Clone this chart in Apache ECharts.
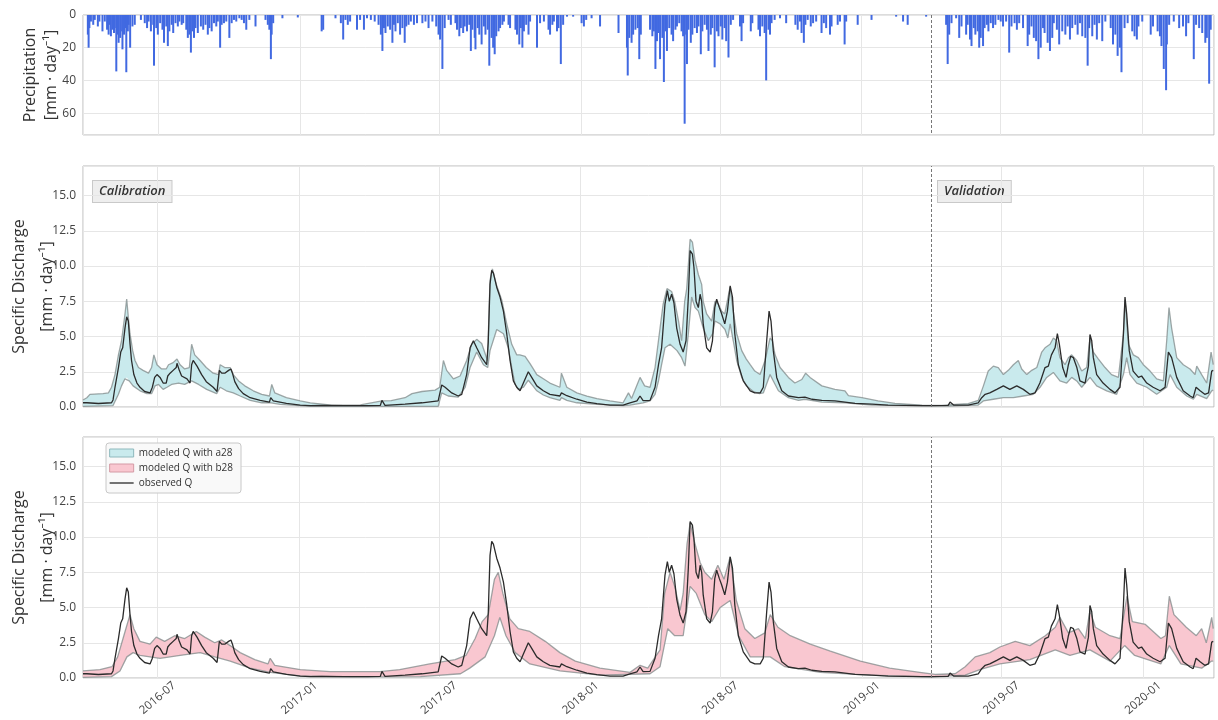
<!DOCTYPE html>
<html>
<head>
<meta charset="utf-8">
<script src="https://cdn.jsdelivr.net/npm/echarts@6/dist/echarts.min.js"></script>
<style>
  html, body { margin: 0; padding: 0; background: #fff; }
  #chart { width: 1218px; height: 720px; }
</style>
</head>
<body>
<div id="chart"></div>
<script>
// Every series is stored as [day, value], day 0 = 2016-03-26.
const DAY = 86400000;
const START = Date.UTC(2016, 2, 26);
const END = Date.UTC(2020, 3, 2);
const SPLIT_DATE = '2019-04-01';            // calibration | validation

// Daily precipitation [mm/day]
const precipitation = [
  [5,12],[6,20],[7,8],[9,4],[12,6],[14,3],[18,7],[20,4],[24,10],[27,4],[30,9],[32,12],[33,6],[35,13],[37,9],[39,11],
  [40,8],[42,34.5],[43,12],[45,17],[47,14],[48,10],[50,21],[52,12],[54,8],[55,35],[57,10],[58,6],[60,20],[63,7],[66,6],
  [74,3],[79,5],[82,8],[84,4],[87,10],[90,6],[91,31],[94,8],[96,12],[99,5],[102,9],[104,17],[107,7],[109,19],[111,10],
  [114,6],[116,11],[119,5],[122,7],[124,4],[127,6],[129,5],[133,9],[135,14],[137,12],[139,23],[141,10],[143,14],[145,8],
  [148,11],[152,7],[155,9],[158,6],[161,12],[163,8],[166,10],[169,5],[172,7],[174,4],[177,20],[179,6],[182,5],[185,4],
  [189,14],[192,5],[195,3],[198,4],[202,2],[205,3],[208,5],[211,9],[215,3],[223,7],[236,3],[239,6],[241,9],[243,27],
  [244,12],[246,5],[258,2],[278,1.5],[309,10],[311,9],[327,2],[334,5],[337,15],[340,3],[343,6],[346,4],[355,9],[359,3],
  [364,9],[368,2],[373,3],[378,4],[383,6],[386,12],[388,22],[390,8],[392,11],[395,7],[398,9],[401,17],[403,6],[405,10],
  [408,5],[411,12],[414,8],[417,17],[419,7],[422,6],[425,4],[429,6],[433,5],[440,5],[444,4],[448,8],[453,4],[458,7],
  [461,12],[463,15],[466,33],[469,8],[474,3],[477,6],[483,5],[485,9],[488,13],[490,8],[493,11],[495,7],[498,10],[501,6],
  [503,22],[505,9],[508,14],[509,21],[512,8],[514,12],[517,18],[520,7],[522,12],[525,9],[527,31],[530,14],[532,20],
  [534,24],[536,13],[539,10],[541,8],[544,6],[546,4],[552,6],[554,8],[561,9],[563,12],[566,18],[568,8],[570,20],[572,10],
  [575,6],[578,12],[580,4],[589,20],[593,5],[598,4],[604,9],[606,12],[609,6],[611,4],[615,10],[617,8],[620,30],[623,6],
  [628,1],[636,1],[647,5],[650,7],[653,3],[660,2],[671,7],[695,11],[706,20],[707,37],[709,14],[712,17],[714,12],[717,9],
  [720,8],[722,27],[724,12],[736,9],[739,13],[741,10],[743,33],[745,16],[747,11],[749,27],[752,14],[754,41],[756,10],
  [758,22],[761,8],[764,12],[766,16],[769,9],[771,7],[774,5],[777,10],[779,13],[781,66.5],[783,12],[784,30],[786,9],
  [789,17],[791,12],[794,8],[797,11],[799,7],[802,24],[804,10],[807,6],[810,9],[812,22],[815,12],[817,8],[820,32],
  [823,10],[825,13],[828,7],[830,15],[833,8],[835,16],[838,26],[841,6],[844,3],[853,7],[855,16],[857,5],[867,10],[869,5],
  [877,9],[879,13],[882,7],[885,11],[887,40],[890,9],[892,12],[894,5],[898,3],[905,2],[913,5],[925,6],[928,9],[931,4],
  [933,11],[936,17],[938,6],[941,3],[945,7],[948,5],[952,4],[959,11],[962,5],[965,8],[970,12],[972,7],[980,6],[983,4],
  [989,18],[991,4],[1006,6],[1024,3],[1056,1],[1065,4],[1071,6],[1095,1],[1121,6],[1123,30],[1125,12],[1128,5],[1134,2],
  [1138,14],[1141,7],[1147,12],[1149,6],[1152,15],[1154,19],[1157,8],[1159,12],[1162,10],[1164,20],[1166,14],[1169,19],
  [1171,8],[1174,6],[1176,10],[1179,5],[1182,8],[1185,6],[1189,3],[1192,4],[1195,7],[1199,4],[1203,23],[1206,7],
  [1210,5],[1213,9],[1216,5],[1221,8],[1227,19],[1229,12],[1232,7],[1235,14],[1238,16],[1241,27],[1244,20],[1247,8],
  [1249,11],[1253,17],[1256,22],[1259,14],[1261,5],[1265,9],[1268,18],[1272,10],[1276,12],[1279,7],[1282,15],[1285,8],
  [1289,6],[1292,12],[1295,5],[1298,13],[1302,14],[1305,31],[1307,8],[1311,13],[1314,6],[1317,15],[1320,5],[1324,16],
  [1328,4],[1335,8],[1338,18],[1341,12],[1344,25],[1347,20],[1349,35],[1353,8],[1357,5],[1363,10],[1366,13],[1369,15],
  [1371,7],[1376,4],[1387,12],[1390,7],[1396,10],[1399,13],[1401,19],[1404,33],[1407,46],[1408,18],[1411,6],[1417,4],
  [1424,8],[1429,7],[1433,13],[1436,5],[1443,27],[1446,6],[1450,8],[1454,11],[1458,17],[1460,14],[1463,42],[1465,9]
];

// Observed specific discharge [mm/day]
const observedQ = [
  [0,0.3],[5,0.3],[20,0.25],[37,0.3],[39,0.5],[41.5,1.4],[46,2.8],[49,3.9],[51.5,4.2],[54.5,5.6],[56.7,6.4],[58.8,6.1],
  [61,4.5],[63,3.3],[66,2.3],[70,1.7],[74,1.4],[80,1.1],[87,1.0],[90,1.4],[93,2.1],[96,2.3],[100,2.1],[104,1.7],[108,1.7],
  [110,2.2],[113,2.4],[117,2.6],[121,2.8],[122,3.1],[125,2.6],[128,2.2],[135,2.0],[139,1.7],[141,3.0],[143,3.3],[148,2.9],
  [154,2.3],[160,1.8],[169,1.4],[174,1.1],[177,2.6],[180,2.4],[184,2.4],[189,2.6],[192,2.7],[194,2.4],[197,1.8],[202,1.3],
  [208,0.95],[217,0.66],[230,0.47],[242,0.35],[243.6,0.66],[247,0.43],[264,0.26],[282,0.14],[295,0.1],[310,0.12],
  [340,0.1],[370,0.1],[386,0.12],[388,0.47],[392,0.12],[418,0.2],[440,0.3],[461,0.43],[465.6,1.56],[470,1.4],[478.6,1.0],
  [487,0.78],[491.6,0.9],[498,2.3],[502.4,4.2],[506.7,4.7],[511,4.2],[517.5,3.5],[524,3.0],[526,4.6],[528.3,8.7],
  [530.5,9.7],[532.7,9.5],[534.8,9.6],[537,8.5],[541.3,7.8],[545.7,6.8],[550,5.2],[554.3,3.3],[558.6,1.85],[563,1.4],
  [567.3,1.15],[571.6,1.7],[578,2.5],[582.4,2.1],[584.5,2.0],[589,1.5],[597.5,1.15],[606,0.9],[619,0.78],[621,1.0],
  [628,0.8],[641,0.55],[654,0.35],[667,0.24],[684,0.14],[701,0.14],[710,0.3],[719,0.43],[723,0.78],[727,0.45],[736,0.47],
  [742.5,1.4],[747,3.0],[751,4.2],[755.4,7.3],[758.5,8.25],[761,7.5],[764,8.0],[767,7.4],[770.6,5.6],[775,4.45],[779,3.9],
  [782.7,4.7],[785.7,7.8],[788,11.1],[791,10.85],[793,9.9],[795.7,7.5],[798.7,7.05],[801,8.0],[803,7.5],[805,5.9],
  [809.5,4.2],[814,3.9],[817,4.7],[820,7.05],[822.5,7.65],[826,7.05],[829,6.6],[833,5.9],[836.4,6.8],[840,8.6],[843,7.8],
  [846,5.2],[850.6,3.0],[857,1.85],[866,1.15],[872,1.0],[879,1.0],[883,1.4],[887.4,4.7],[890.5,6.8],[893,6.1],[896,4.0],
  [900.4,2.1],[907,1.15],[915.6,0.78],[928.6,0.66],[937,0.7],[946,0.55],[959,0.47],[976,0.43],[989,0.35],[1002,0.26],
  [1024,0.2],[1045,0.14],[1067,0.12],[1089,0.1],[1102,0.1],[1123,0.12],[1125.4,0.35],[1130,0.14],[1149,0.14],[1162,0.3],
  [1166.5,0.66],[1171,0.9],[1177,1.0],[1186,1.25],[1194.6,1.5],[1203,1.25],[1212,1.5],[1220.5,1.25],[1229,0.9],
  [1235.7,1.0],[1242,1.7],[1248.7,2.8],[1253,2.9],[1257,3.7],[1261.7,4.2],[1264.7,5.2],[1267.3,4.45],[1271.6,2.8],
  [1276,2.1],[1279,3.0],[1282,3.6],[1285.5,3.5],[1290,2.8],[1294,1.85],[1300.6,1.7],[1305,2.9],[1307,5.15],[1309.3,4.7],
  [1311.4,3.5],[1315.7,2.3],[1324,1.7],[1333,1.25],[1339.5,1.0],[1346,1.4],[1350.4,5.15],[1352.5,7.8],[1354.7,6.6],
  [1358,4.0],[1363,2.55],[1370,2.1],[1374,2.2],[1380.7,1.7],[1389,1.4],[1398,1.15],[1404.5,1.4],[1408.8,3.9],[1413,3.5],
  [1419.6,2.1],[1428,1.15],[1437,0.78],[1441,0.66],[1444.7,1.4],[1450,1.15],[1456,0.9],[1461,1.0],[1465,2.55],[1467,2.6]
];

// Modeled discharge band with parameter set a28 (upper / lower bound)
const a28Upper = [
  [0,0.5],[5,0.66],[9,0.9],[26,0.95],[33,1.0],[37,1.4],[41.5,2.3],[46,3.7],[50,4.7],[54.5,6.6],[56.7,7.65],[58.8,6.4],
  [61,5.2],[64.5,4.0],[67.5,3.3],[72,2.8],[78,2.6],[85,2.4],[89,2.8],[92,3.7],[96,3.0],[102,2.7],[108,2.7],[111,3.0],
  [117,3.15],[122,3.4],[126,3.0],[132,2.7],[138,2.8],[141,4.45],[145,3.7],[152,3.3],[160,2.8],[169,2.4],[176,2.3],
  [178,3.0],[184,2.8],[191,2.8],[195,2.3],[202,1.85],[210,1.5],[221,1.15],[232,0.9],[242,0.78],[245,1.6],[249,1.0],
  [264,0.66],[282,0.43],[295,0.3],[323,0.14],[360,0.15],[388,0.43],[400,0.45],[418,0.66],[427,0.95],[440,1.1],[457,1.2],
  [463,1.4],[467.8,3.3],[472,2.6],[480.8,2.0],[489.4,2.2],[498,3.3],[504.5,4.45],[511,4.8],[517.5,4.5],[525,3.3],
  [528.3,9.0],[531.4,9.8],[537,8.6],[543.5,7.6],[550,5.9],[556.5,4.45],[563,3.7],[567,3.7],[573.8,3.6],[580,3.1],
  [584.5,2.7],[589,2.3],[597.5,2.0],[606,1.7],[619,1.4],[621,2.4],[628,1.4],[641,1.0],[654,0.78],[667,0.6],[684,0.43],
  [701,0.3],[708,1.0],[712,0.6],[723,2.1],[729,1.5],[736,1.4],[742.5,2.8],[749,5.6],[753,7.3],[758,8.4],[764,8.2],
  [768,7.5],[773,6.1],[777,4.7],[781,7.5],[783.6,8.4],[788,11.9],[791,11.7],[794.4,10.4],[798.7,9.4],[803,8.7],[805,7.5],
  [809.5,6.6],[816,6.1],[820.3,7.5],[824.6,7.3],[829,6.8],[833,6.6],[839.8,8.5],[844,6.8],[848.5,5.2],[855,4.0],[861,3.4],
  [866,3.0],[872,2.55],[878.8,2.3],[885.3,3.3],[891.8,4.9],[894.8,4.7],[898.3,3.7],[904.8,2.8],[915.6,2.1],[924,1.7],
  [933,1.95],[938,2.4],[943.7,2.1],[959,1.5],[976,1.25],[989,1.15],[993.5,0.8],[1011,0.66],[1032,0.43],[1054,0.26],
  [1089,0.14],[1115,0.12],[1132,0.19],[1149,0.24],[1162,0.47],[1168.7,1.5],[1175,2.55],[1181.6,2.9],[1188,2.8],
  [1194.6,2.3],[1201,2.6],[1207.6,3.0],[1214,3.3],[1218.4,2.7],[1225,2.3],[1231.4,2.6],[1238,2.8],[1244.4,3.9],
  [1248.7,4.2],[1255.2,4.45],[1259.5,4.9],[1263.8,4.7],[1268,3.5],[1274.6,3.0],[1279,3.5],[1283.3,3.7],[1289.8,3.3],
  [1296.3,2.55],[1302.8,2.8],[1307,4.9],[1311.4,3.9],[1318,3.4],[1326.6,2.8],[1335,2.3],[1343.9,2.1],[1350.4,5.15],
  [1352.5,7.6],[1356.9,4.45],[1363.3,3.7],[1369.8,3.5],[1376.3,3.0],[1385,2.55],[1393.6,2.0],[1402.3,1.85],[1406.6,4.7],
  [1409.6,7.05],[1413,5.6],[1419.6,3.5],[1428.2,3.0],[1436.9,2.7],[1443.4,2.3],[1445.6,2.9],[1452,2.3],[1458.5,1.7],
  [1464.2,3.9],[1467,3.0]
];
const a28Lower = [
  [0,0.05],[39,0.1],[46,0.9],[50,1.5],[54.5,2.0],[57,2.1],[60,1.85],[65,1.5],[74,1.15],[83,0.95],[89,0.95],[93.5,1.5],
  [98,1.6],[104,1.25],[109,1.4],[115,1.6],[124,1.7],[132,1.6],[141,1.85],[150,1.6],[160.5,1.25],[173.5,0.95],[178,1.4],
  [186,1.15],[195,1.0],[204,0.78],[217,0.47],[232,0.3],[244,0.3],[256,0.19],[295,0.05],[461,0.05],[465.6,1.0],[474,0.78],
  [487,0.7],[496,1.4],[502.4,2.8],[511,3.9],[519.7,3.0],[525.3,2.8],[528.3,4.0],[537,5.5],[545.7,5.2],[552,4.2],
  [556.5,2.8],[560.8,1.6],[565,1.25],[571.6,1.4],[578,1.9],[584,1.5],[589,1.15],[597.5,0.85],[606,0.66],[619,0.47],
  [621,0.66],[628,0.47],[641,0.3],[667,0.19],[701,0.1],[710,0.14],[727,0.3],[736,0.43],[742.5,0.9],[747,1.85],[751,3.0],
  [755.4,4.2],[762,4.45],[771,4.0],[777,3.5],[781.4,2.9],[785.7,5.2],[790,7.8],[794.4,7.05],[798.7,6.8],[805,5.6],
  [811.7,4.7],[817.3,5.2],[820.3,6.1],[827,5.9],[833.3,5.5],[837,4.9],[840,5.9],[844,4.7],[848.5,3.3],[855,2.1],[861,1.5],
  [870,1.1],[878,0.95],[883,1.0],[891.8,2.3],[896,1.85],[902.6,1.15],[915.6,0.66],[928.6,0.47],[937,0.55],[959,0.35],
  [989,0.3],[1024,0.14],[1067,0.1],[1123,0.07],[1162,0.14],[1168.6,0.43],[1181.6,0.55],[1194.6,0.66],[1207.6,0.66],
  [1220.5,0.78],[1233.5,0.9],[1242.2,1.4],[1250.8,2.1],[1259.5,2.45],[1268,1.85],[1276.8,1.7],[1283.3,2.1],[1289.8,1.85],
  [1296.3,1.4],[1307.1,2.1],[1315.7,1.5],[1328.7,1.15],[1341.7,0.9],[1350.4,2.3],[1354.7,3.5],[1359,2.3],[1367.7,1.7],
  [1380.7,1.4],[1393.6,0.9],[1406.6,1.4],[1411,2.3],[1419.6,1.4],[1432.6,0.78],[1441.2,0.55],[1445.6,0.9],[1458.5,0.6],
  [1465,1.15],[1467,1.2]
];

// Modeled discharge band with parameter set b28 (upper / lower bound)
const b28Upper = [
  [0,0.5],[22,0.6],[37.6,0.8],[45,1.5],[53,3.0],[61,4.5],[66,3.5],[74,2.6],[87,2.4],[95,2.9],[106,2.6],[119,3.0],
  [132,2.8],[147,3.3],[158,2.9],[171,2.5],[180,2.7],[191,2.3],[204,1.8],[223,1.3],[240,1.0],[243,1.4],[249,0.9],[282,0.6],
  [321,0.45],[385,0.45],[411,0.6],[450,1.0],[483,1.3],[497,1.6],[509,2.8],[518,4.0],[526,4.5],[534,7.0],[539,7.5],[545,6.0],
  [554,4.2],[565,3.5],[580,3.3],[600,2.6],[619,1.8],[639,1.2],[671,0.7],[710,0.4],[723,0.9],[733,0.7],[749,2.0],[755,6.0],
  [762,7.5],[768,6.5],[775,4.8],[779,6.0],[784,9.5],[788,11.0],[793,9.8],[801,8.2],[807,7.5],[816,7.0],[824,8.0],[832,7.0],
  [840,8.6],[848,5.5],[859,3.5],[872,2.8],[885,3.2],[892,4.5],[902,3.6],[918,3.0],[944,2.4],[970,1.9],[1009,1.2],
  [1047,0.7],[1086,0.4],[1106,0.25],[1132,0.3],[1145,0.8],[1158,1.5],[1177,1.8],[1190,2.2],[1210,2.6],[1229,2.3],
  [1249,3.0],[1262,3.6],[1268,4.3],[1279,3.2],[1292,3.5],[1301,2.8],[1307,4.8],[1314,3.6],[1333,3.0],[1346,2.8],
  [1355,5.8],[1362,4.0],[1379,3.8],[1399,2.8],[1405,3.0],[1410,5.8],[1416,4.5],[1432,3.6],[1445,3.0],[1452,3.5],
  [1458,2.5],[1465,4.3],[1467,3.5]
];
const b28Lower = [
  [0,0.05],[37,0.1],[48,0.5],[57,1.5],[65,1.8],[74,1.6],[100,1.4],[126,1.6],[152,1.8],[171,1.5],[191,1.2],[217,0.7],
  [243,0.4],[282,0.15],[347,0.08],[438,0.1],[490,0.3],[502,0.7],[522,1.5],[534,3.0],[541,4.3],[549,3.0],[561,1.8],
  [580,1.0],[619,0.5],[671,0.2],[736,0.3],[749,0.8],[759,3.5],[768,3.0],[779,3.0],[788,6.5],[796,6.0],[807,4.5],
  [816,4.0],[827,5.0],[840,5.5],[851,3.0],[866,1.5],[892,1.5],[911,0.8],[957,0.4],[1022,0.2],[1099,0.08],[1145,0.2],
  [1164,0.6],[1190,1.0],[1229,1.3],[1262,2.0],[1281,1.6],[1307,2.0],[1333,1.2],[1352,2.3],[1365,1.6],[1399,1.0],
  [1410,2.3],[1425,1.0],[1452,0.7],[1465,1.2],[1467,1.2]
];

// ---------------------------------------------------------------------------
const FONT = '"Open Sans", "Noto Sans", sans-serif';
const GRID_COLOR = '#e6e6e6';
const EDGE_COLOR = 'rgba(128,138,138,0.75)';
const CYAN = '#c9eaed';
const PINK = '#f9c7d0';
const OBS_COLOR = '#2b2b2b';
const toTime = d => START + d * DAY;
const toPoints = arr => arr.map(p => [toTime(p[0]), p[1]]);
const splitTime = Date.UTC(+SPLIT_DATE.slice(0, 4), +SPLIT_DATE.slice(5, 7) - 1, +SPLIT_DATE.slice(8, 10));
const pad = n => (n < 10 ? '0' : '') + n;
const fmtMonth = v => { const d = new Date(v); return d.getUTCFullYear() + '-' + pad(d.getUTCMonth() + 1); };

const grids = [
  { left: 83, right: 4, top: 15, height: 120 },
  { left: 83, right: 4, top: 166, height: 241 },
  { left: 83, right: 4, top: 437, height: 241 }
].map(g => Object.assign(g, {
  show: true, borderColor: '#b8b8b8', borderWidth: 1, backgroundColor: 'transparent',
  containLabel: false, outerBoundsMode: 'none'
}));

// half-year ticks (1 Jan / 1 Jul), labels centred under their tick
function makeXAxis(gridIndex, withLabels) {
  return {
    type: 'time', gridIndex, min: START, max: END,
    splitNumber: 8, minInterval: 182 * DAY, maxInterval: 183 * DAY,
    axisLine: { show: false },
    axisTick: { show: false },
    splitLine: { show: true, lineStyle: { color: GRID_COLOR, width: 1 } },
    axisLabel: {
      show: withLabels, rotate: 40, formatter: fmtMonth, showMinLabel: false, showMaxLabel: false,
      align: 'center', verticalAlign: 'middle', hideOverlap: false,
      color: '#444', fontSize: 11.5, fontFamily: FONT, margin: 20
    }
  };
}

const nameBase = { fontSize: 16, color: '#333', fontFamily: FONT };
function makeQAxis(gridIndex) {
  return {
    type: 'value', gridIndex, min: 0, max: 17.1, interval: 2.5,
    name: 'Specific Discharge\n[mm · day⁻¹]', nameLocation: 'middle', nameGap: 22, nameMoveOverlap: false,
    nameTextStyle: Object.assign({ lineHeight: 28 }, nameBase),
    axisLine: { show: false }, axisTick: { show: false },
    splitLine: { lineStyle: { color: GRID_COLOR, width: 1 } },
    axisLabel: {
      color: '#444', fontSize: 12, fontFamily: FONT, margin: 7, showMaxLabel: false,
      formatter: v => (Math.abs(v / 2.5 - Math.round(v / 2.5)) < 1e-6 ? v.toFixed(1) : '')
    }
  };
}

const splitMark = {
  silent: true, symbol: ['none', 'none'], label: { show: false },
  lineStyle: { color: '#777', type: [3, 2], width: 1 },
  data: [{ xAxis: splitTime }], animation: false
};

function bandSeries(name, upper, lower, axisIndex, fill) {
  return {
    type: 'custom', name, xAxisIndex: axisIndex, yAxisIndex: axisIndex,
    coordinateSystem: 'cartesian2d', silent: true, z: 1,
    itemStyle: { color: fill },
    data: [[toTime(upper[0][0]), upper[0][1]]],
    renderItem: (params, api) => {
      const pts = upper.map(p => api.coord([toTime(p[0]), p[1]]))
        .concat(lower.slice().reverse().map(p => api.coord([toTime(p[0]), p[1]])));
      return { type: 'polygon', shape: { points: pts }, style: { fill: fill, stroke: null } };
    }
  };
}
function edgeSeries(name, arr, axisIndex) {
  return {
    type: 'line', name, xAxisIndex: axisIndex, yAxisIndex: axisIndex, data: toPoints(arr),
    symbol: 'none', silent: true, z: 2, lineStyle: { color: EDGE_COLOR, width: 1.3 }
  };
}
function obsSeries(axisIndex) {
  return {
    type: 'line', name: 'observed Q', xAxisIndex: axisIndex, yAxisIndex: axisIndex, data: toPoints(observedQ),
    symbol: 'none', silent: true, z: 3, lineStyle: { color: OBS_COLOR, width: 1.3 }, itemStyle: { color: OBS_COLOR },
    markLine: splitMark
  };
}

const option = {
  animation: false,
  useUTC: true,
  backgroundColor: '#fff',
  grid: grids,
  xAxis: [makeXAxis(0, false), makeXAxis(1, false), makeXAxis(2, true)],
  yAxis: [
    {
      type: 'value', gridIndex: 0, inverse: true, min: 0, max: 73.4, interval: 20,
      name: 'Precipitation\n[mm · day⁻¹]', nameLocation: 'middle', nameGap: 21.5, nameMoveOverlap: false,
      nameTextStyle: Object.assign({ lineHeight: 20.5 }, nameBase),
      axisLine: { show: false }, axisTick: { show: false },
      splitLine: { lineStyle: { color: GRID_COLOR, width: 1 } },
      axisLabel: {
        color: '#444', fontSize: 12, fontFamily: FONT, margin: 7, showMaxLabel: false,
        formatter: v => (v % 20 === 0 ? String(v) : '')
      }
    },
    makeQAxis(1),
    makeQAxis(2)
  ],
  legend: {
    orient: 'vertical', left: 106, top: 443, selectedMode: false,
    data: [
      { name: 'modeled Q with a28', icon: 'rect', itemStyle: { color: CYAN, borderColor: '#8fb9bd', borderWidth: 1 } },
      { name: 'modeled Q with b28', icon: 'rect', itemStyle: { color: PINK, borderColor: '#d49aa5', borderWidth: 1 } },
      { name: 'observed Q', itemStyle: { opacity: 0 }, lineStyle: { color: OBS_COLOR, width: 1.3 } }
    ],
    itemWidth: 24, itemHeight: 8, itemGap: 5, padding: [5, 8, 5, 3],
    backgroundColor: 'rgba(248,248,248,0.92)', borderColor: '#c8c8c8', borderWidth: 1, borderRadius: 3,
    textStyle: { fontSize: 10, color: '#333', fontFamily: FONT }
  },
  graphic: [
    {
      type: 'text', left: 92, top: 180, silent: true,
      style: {
        text: 'Calibration', font: 'italic 600 13px ' + FONT, fill: '#333',
        backgroundColor: '#eeeeee', borderColor: '#c9c9c9', borderWidth: 1, padding: [4, 6, 4, 6]
      }
    },
    {
      type: 'text', left: 937, top: 180, silent: true,
      style: {
        text: 'Validation', font: 'italic 600 13px ' + FONT, fill: '#333',
        backgroundColor: '#eeeeee', borderColor: '#c9c9c9', borderWidth: 1, padding: [4, 6, 4, 6]
      }
    }
  ],
  series: [
    {
      type: 'bar', name: 'precipitation', xAxisIndex: 0, yAxisIndex: 0, data: toPoints(precipitation),
      barWidth: 2, silent: true, itemStyle: { color: '#4169e1' }, markLine: splitMark
    },
    bandSeries('modeled Q with a28', a28Upper, a28Lower, 1, CYAN),
    edgeSeries('a28 upper', a28Upper, 1),
    edgeSeries('a28 lower', a28Lower, 1),
    obsSeries(1),
    bandSeries('modeled Q with b28', b28Upper, b28Lower, 2, PINK),
    edgeSeries('b28 upper', b28Upper, 2),
    edgeSeries('b28 lower', b28Lower, 2),
    obsSeries(2)
  ]
};

const chart = echarts.init(document.getElementById('chart'), null, { renderer: 'canvas' });
chart.setOption(option);
</script>
</body>
</html>
